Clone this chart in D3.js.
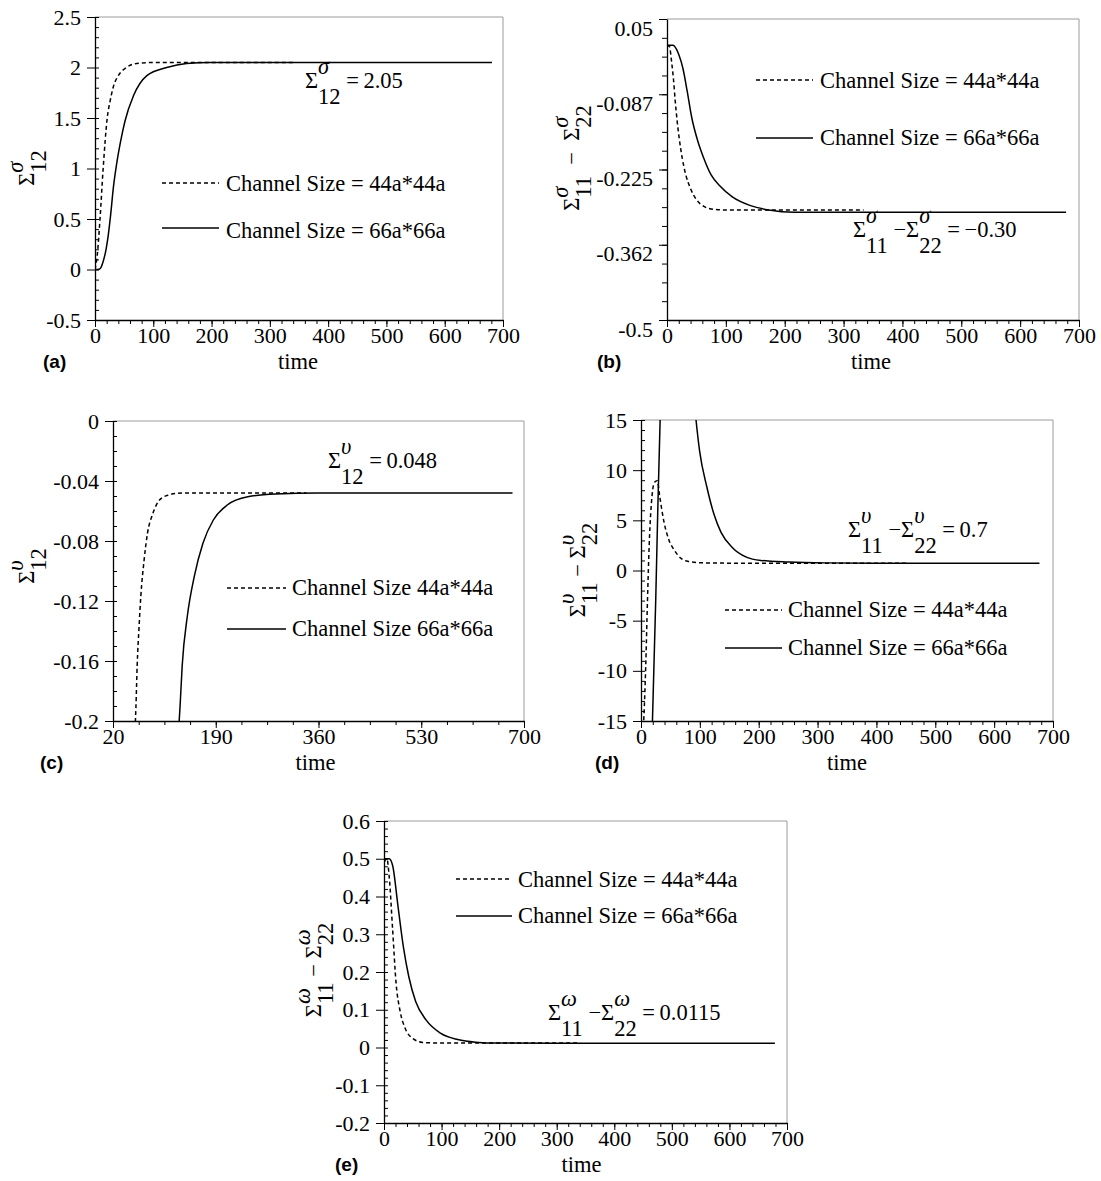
<!DOCTYPE html>
<html>
<head>
<meta charset="utf-8">
<script src="https://cdn.jsdelivr.net/npm/d3@7/dist/d3.min.js"></script>
<style>
  body { margin: 0; background: #fff; }
  svg text { font-family: "Liberation Serif", "Times New Roman", serif; fill: #000; white-space: pre; }
  svg text.tag { font-family: "Liberation Sans", Arial, sans-serif; font-weight: bold; }
</style>
</head>
<body>
<svg id="chart" width="1101" height="1181"></svg>
<script>
// ---- data (time, value) ----
const aTime44 = [0, 4, 8.6, 14, 21, 26, 31, 40, 51.5, 71.5, 100, 150, 340];
const aVal44  = [0, 0.15, 0.5, 1.0, 1.5, 1.67, 1.8, 1.92, 1.99, 2.04, 2.05, 2.05, 2.05];
const aTime66 = [0, 5, 9, 14, 19, 23, 27, 31.5, 37, 44, 51.5, 66, 89, 123, 157, 197, 300, 500, 681];
const aVal66  = [0, 0, 0.01, 0.08, 0.2, 0.35, 0.55, 0.81, 1.04, 1.27, 1.47, 1.72, 1.92, 2.0, 2.04, 2.05, 2.05, 2.05, 2.05];

const bTime44 = [0, 4, 8, 11, 14, 17, 21, 26, 32, 40, 50, 62, 75, 100, 200, 334];
const bVal44  = [0.002, 0, -0.03, -0.06, -0.1, -0.134, -0.17, -0.205, -0.235, -0.26, -0.28, -0.292, -0.297, -0.299, -0.299, -0.299];
const bTime66 = [0, 10, 16, 20, 27, 34, 42, 52, 62, 75, 90, 111, 142, 173, 216, 300, 678];
const bVal66  = [0.002, 0.002, -0.005, -0.015, -0.04, -0.08, -0.13, -0.172, -0.203, -0.235, -0.255, -0.275, -0.291, -0.299, -0.303, -0.303, -0.303];

const cTime44 = [56, 58, 60, 63, 66, 71.5, 77, 86, 97, 111.6, 134, 200, 340];
const cVal44  = [-0.21, -0.19, -0.163, -0.138, -0.117, -0.0926, -0.075, -0.0616, -0.0527, -0.0494, -0.048, -0.048, -0.048];
const cTime66 = [128, 131, 134.5, 143, 154.5, 168.8, 186, 209, 243, 289, 360, 681];
const cVal66  = [-0.21, -0.19, -0.163, -0.13, -0.1036, -0.0815, -0.066, -0.056, -0.0505, -0.0487, -0.048, -0.048];

const dTime44 = [3, 5, 8, 11, 14, 19, 23, 27.5, 32, 38.5, 47.7, 57, 69, 81, 106, 200, 451];
const dVal44  = [-17, -14.5, -9.6, -3.0, 2.65, 7.6, 8.8, 8.95, 7.3, 5.0, 3.0, 2.0, 1.16, 0.9, 0.76, 0.72, 0.72];
const dTime66 = [19, 25, 28.5, 32.5, 35, 60, 88, 93.5, 99.6, 112, 124, 136, 155, 179, 203.5, 252, 313, 400, 677];
const dVal66  = [-16, -3, 6, 15, 19, 25, 18.5, 15, 11.9, 8.3, 5.6, 3.8, 2.3, 1.33, 1.0, 0.85, 0.76, 0.72, 0.72];

const eTime44 = [0, 5, 9, 15, 21, 27.5, 36.7, 49, 67, 100, 200, 340];
const eVal44  = [0.49, 0.5, 0.453, 0.312, 0.17, 0.1, 0.051, 0.025, 0.0135, 0.0117, 0.0117, 0.0117];
const eTime66 = [0, 9, 15, 24.4, 33.6, 43, 55, 73, 98, 128, 159, 196, 300, 679];
const eVal66  = [0.5, 0.5, 0.482, 0.373, 0.267, 0.188, 0.122, 0.073, 0.038, 0.021, 0.014, 0.0117, 0.0115, 0.0115];

// ---- ticks ----
const timeTicks = [0, 100, 200, 300, 400, 500, 600, 700];
const timeLabels = ["0", "100", "200", "300", "400", "500", "600", "700"];
const cTimeTicks = [20, 190, 360, 530, 700];
const cTimeLabels = ["20", "190", "360", "530", "700"];
const aYTicks = [-0.5, 0, 0.5, 1, 1.5, 2, 2.5];
const aYLabels = ["-0.5", "0", "0.5", "1", "1.5", "2", "2.5"];
const bYTicks = [-0.5, -0.3625, -0.225, -0.0875, 0.05];
const bYLabels = ["-0.5", "-0.362", "-0.225", "-0.087", "0.05"];
const cYTicks = [-0.2, -0.16, -0.12, -0.08, -0.04, 0];
const cYLabels = ["-0.2", "-0.16", "-0.12", "-0.08", "-0.04", "0"];
const dYTicks = [-15, -10, -5, 0, 5, 10, 15];
const dYLabels = ["-15", "-10", "-5", "0", "5", "10", "15"];
const eYTicks = [-0.2, -0.1, 0, 0.1, 0.2, 0.3, 0.4, 0.5, 0.6];
const eYLabels = ["-0.2", "-0.1", "0", "0.1", "0.2", "0.3", "0.4", "0.5", "0.6"];

// ---- texts ----
const legendEq = ["Channel Size = 44a*44a", "Channel Size = 66a*66a"];
const legendC = ["Channel Size 44a*44a", "Channel Size 66a*66a"];
const aTitle = ["Σ", {sup: "σ", sub: "12"}];
const aNote = ["Σ", {sup: "σ", sub: "12"}, " =\u20092.05"];
const bTitle = ["Σ", {sup: "σ", sub: "11"}, "  −  Σ", {sup: "σ", sub: "22"}];
const bNote = ["Σ", {sup: "σ", sub: "11"}, " −Σ", {sup: "σ", sub: "22"}, " =\u2009−0.30"];
const cTitle = ["Σ", {sup: "υ", sub: "12"}];
const cNote = ["Σ", {sup: "υ", sub: "12"}, " =\u20090.048"];
const dTitle = ["Σ", {sup: "υ", sub: "11"}, " − Σ", {sup: "υ", sub: "22"}];
const dNote = ["Σ", {sup: "υ", sub: "11"}, " −Σ", {sup: "υ", sub: "22"}, " =\u20090.7"];
const eTitle = ["Σ", {sup: "ω", sub: "11"}, " − Σ", {sup: "ω", sub: "22"}];
const eNote = ["Σ", {sup: "ω", sub: "11"}, " −Σ", {sup: "ω", sub: "22"}, " =\u20090.0115"];

const svg = d3.select("#chart");
const FS_TICK = 22, FS_TXT = 22.5;

// text with stacked super/subscripts
function rich(g, x, y, parts, size, up, down) {
  let cx = x;
  parts.forEach(p => {
    if (typeof p === "string") {
      const t = g.append("text").attr("x", cx).attr("y", y).attr("font-size", size).text(p);
      cx += t.node().getComputedTextLength();
    } else {
      const a = g.append("text").attr("x", cx).attr("y", y - size * up)
        .attr("font-size", size).attr("font-style", "italic").text(p.sup);
      const b = g.append("text").attr("x", cx).attr("y", y + size * down)
        .attr("font-size", size).text(p.sub);
      cx += Math.max(a.node().getComputedTextLength(), b.node().getComputedTextLength());
    }
  });
}

function panel(p) {
  const [l, t, r, b] = p.box;
  const x = d3.scaleLinear().domain(p.xDomain).range([l, r]);
  const y = d3.scaleLinear().domain(p.yDomain).range([b, t]);
  const g = svg.append("g");

  g.append("clipPath").attr("id", "clip-" + p.id)
    .append("rect").attr("x", l).attr("y", t).attr("width", r - l).attr("height", b - t);

  // thin grey frame on top and right
  g.append("path").attr("d", `M${l},${t}H${r}V${b}`)
    .attr("fill", "none").attr("stroke", "#9a9a9a").attr("stroke-width", 1);

  // minor ticks
  g.append("g").attr("transform", `translate(0,${b})`)
    .call(d3.axisBottom(x).tickValues(p.xMinor).tickSize(4).tickFormat(""))
    .call(s => s.select(".domain").remove());
  g.append("g").attr("transform", `translate(${l},0)`)
    .call(d3.axisLeft(y).tickValues(p.yMinor).tickSize(p.minorOut ? 5 : -4).tickFormat(""))
    .call(s => s.select(".domain").remove());

  // major axes
  const xa = g.append("g").attr("transform", `translate(0,${b})`)
    .call(d3.axisBottom(x).tickValues(p.xTicks).tickSizeInner(7).tickSizeOuter(0)
      .tickFormat((d, i) => p.xLabels[i]));
  xa.selectAll("text").attr("y", 7).attr("font-size", FS_TICK);
  xa.select(".domain").attr("stroke-width", 1.3);

  const ya = g.append("g").attr("transform", `translate(${l},0)`)
    .call(d3.axisLeft(y).tickValues(p.yTicks).tickSizeInner(8).tickSizeOuter(0).tickPadding(6)
      .tickFormat((d, i) => p.yLabels[i]));
  ya.selectAll("text").attr("font-size", FS_TICK)
    .attr("transform", p.labelShift ? `translate(0,${p.labelShift})` : null);
  ya.select(".domain").attr("stroke-width", 1.3);

  // curves
  const line = d3.line().x(d => x(d[0])).y(d => y(d[1])).curve(d3.curveMonotoneX);
  p.series.forEach(s => {
    g.append("path").datum(d3.zip(s.t, s.v))
      .attr("clip-path", `url(#clip-${p.id})`)
      .attr("fill", "none").attr("stroke", "#000").attr("stroke-width", 1.5)
      .attr("stroke-dasharray", s.dash ? "4,3" : null)
      .attr("d", line);
  });

  // legend
  p.legend.forEach((it, i) => {
    g.append("line").attr("x1", it.x1).attr("x2", it.x2).attr("y1", it.y).attr("y2", it.y)
      .attr("stroke", "#000").attr("stroke-width", 1.3)
      .attr("stroke-dasharray", i === 0 ? "4,3" : null);
    g.append("text").attr("x", it.tx).attr("y", it.ty).attr("font-size", FS_TXT).text(p.legendText[i]);
  });

  // annotation
  rich(g, p.notePos[0], p.notePos[1], p.note, FS_TXT, 0.64, 0.7);

  // y title, rotated
  const yl = g.append("g");
  const inner = yl.append("g");
  rich(inner, 0, 0, p.title, FS_TXT, 0.5, 0.55);
  const bb = inner.node().getBBox();
  inner.attr("transform", `translate(${-(bb.x + bb.width / 2)},${-(bb.y + bb.height / 2)})`);
  yl.attr("transform", `translate(${p.titlePos[0]},${p.titlePos[1]}) rotate(-90)`);

  // x title and panel tag
  g.append("text").attr("x", (l + r) / 2 + p.timeDx).attr("y", b + 49)
    .attr("text-anchor", "middle").attr("font-size", FS_TXT).text("time");
  g.append("text").attr("class", "tag").attr("x", p.tagX).attr("y", b + 48)
    .attr("font-size", 19).text(p.tag);
}

const minor100 = d3.range(0, 701, 20);

panel({
  id: "a", tag: "(a)", box: [95, 17, 503, 320], xDomain: [0, 700], yDomain: [-0.5, 2.5],
  xTicks: timeTicks, xLabels: timeLabels, xMinor: minor100,
  yTicks: aYTicks, yLabels: aYLabels, yMinor: d3.range(-0.5, 2.51, 0.1),
  series: [{t: aTime44, v: aVal44, dash: true}, {t: aTime66, v: aVal66}],
  legendText: legendEq,
  legend: [{x1: 162, x2: 219, y: 183, tx: 226, ty: 191}, {x1: 162, x2: 219, y: 228, tx: 226, ty: 238}],
  note: aNote, notePos: [305, 88], title: aTitle, titlePos: [27, 168],
  timeDx: -1, tagX: 43
});

panel({
  id: "b", tag: "(b)", box: [667, 19, 1079, 320], xDomain: [0, 700], yDomain: [-0.5, 0.05],
  xTicks: timeTicks, xLabels: timeLabels, xMinor: minor100,
  yTicks: bYTicks, yLabels: bYLabels, yMinor: d3.range(-0.5, 0.051, 0.034375), minorOut: true, labelShift: 9,
  series: [{t: bTime44, v: bVal44, dash: true}, {t: bTime66, v: bVal66}],
  legendText: legendEq,
  legend: [{x1: 756, x2: 813, y: 80, tx: 820, ty: 88}, {x1: 756, x2: 813, y: 138, tx: 820, ty: 145}],
  note: bNote, notePos: [853, 237], title: bTitle, titlePos: [572, 158],
  timeDx: -2, tagX: 597
});

panel({
  id: "c", tag: "(c)", box: [113, 421, 524, 721], xDomain: [20, 700], yDomain: [-0.2, 0],
  xTicks: cTimeTicks, xLabels: cTimeLabels, xMinor: d3.range(20, 701, 42.5),
  yTicks: cYTicks, yLabels: cYLabels, yMinor: d3.range(-0.2, 0.001, 0.01),
  series: [{t: cTime44, v: cVal44, dash: true}, {t: cTime66, v: cVal66}],
  legendText: legendC,
  legend: [{x1: 227, x2: 286, y: 588, tx: 292, ty: 595}, {x1: 227, x2: 286, y: 629, tx: 292, ty: 636}],
  note: cNote, notePos: [328, 468], title: cTitle, titlePos: [27, 566],
  timeDx: -3, tagX: 40
});

panel({
  id: "d", tag: "(d)", box: [641, 420, 1053, 721], xDomain: [0, 700], yDomain: [-15, 15],
  xTicks: timeTicks, xLabels: timeLabels, xMinor: minor100,
  yTicks: dYTicks, yLabels: dYLabels, yMinor: d3.range(-15, 15.1, 1),
  series: [{t: dTime44, v: dVal44, dash: true}, {t: dTime66, v: dVal66}],
  legendText: legendEq,
  legend: [{x1: 725, x2: 782, y: 610, tx: 788, ty: 617}, {x1: 725, x2: 782, y: 648, tx: 788, ty: 655}],
  note: dNote, notePos: [848, 537], title: dTitle, titlePos: [578, 570],
  timeDx: 0, tagX: 595
});

panel({
  id: "e", tag: "(e)", box: [384, 821, 787, 1123], xDomain: [0, 700], yDomain: [-0.2, 0.6],
  xTicks: timeTicks, xLabels: timeLabels, xMinor: minor100,
  yTicks: eYTicks, yLabels: eYLabels, yMinor: d3.range(-0.2, 0.601, 0.02),
  series: [{t: eTime44, v: eVal44, dash: true}, {t: eTime66, v: eVal66}],
  legendText: legendEq,
  legend: [{x1: 456, x2: 512, y: 879, tx: 518, ty: 887}, {x1: 456, x2: 512, y: 916, tx: 518, ty: 923}],
  note: eNote, notePos: [548, 1020], title: eTitle, titlePos: [314, 970],
  timeDx: -4, tagX: 335
});
</script>
</body>
</html>
